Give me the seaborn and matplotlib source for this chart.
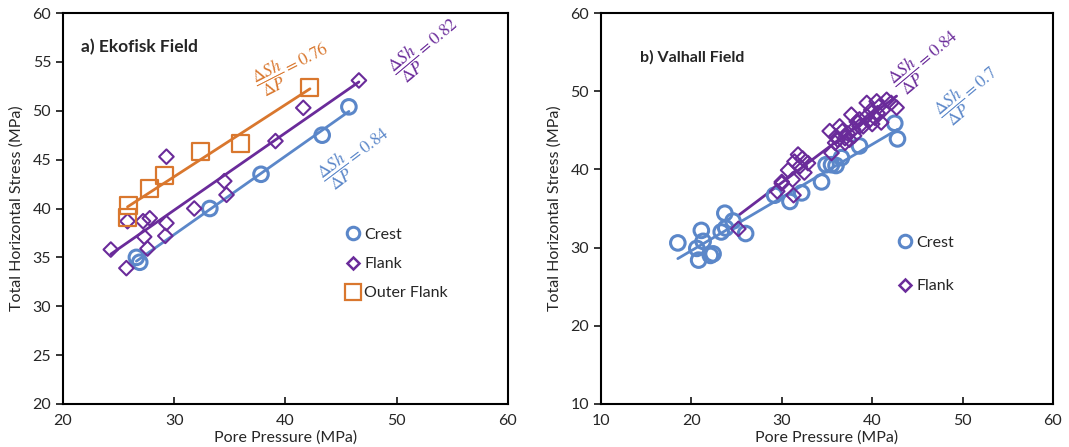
import numpy as np
import pandas as pd
import seaborn as sns
import matplotlib
matplotlib.use("Agg")
import matplotlib.pyplot as plt
from matplotlib.lines import Line2D

sns.set_style("white")
plt.rcParams['font.family'] = ['Lato', 'DejaVu Sans']
plt.rcParams['mathtext.fontset'] = 'stix'

# ---------------- data: a) Ekofisk Field ----------------
ek_crest_p = [26.6, 26.9, 33.2, 37.8, 43.3, 45.7]
ek_crest_s = [35.0, 34.5, 40.0, 43.5, 47.5, 50.4]

ek_flank_p = [24.3, 25.7, 25.8, 27.2, 27.8, 27.3, 27.6, 29.3, 29.3, 29.2, 31.8, 34.5, 34.7, 39.1, 41.6, 46.6]
ek_flank_s = [35.8, 33.9, 38.7, 38.7, 39.0, 37.1, 35.9, 45.3, 38.5, 37.2, 40.0, 42.8, 41.4, 46.9, 50.3, 53.1]

ek_outer_p = [25.9, 25.8, 27.8, 29.1, 32.4, 36.0, 42.2]
ek_outer_s = [40.3, 39.1, 42.0, 43.4, 45.8, 46.6, 52.4]

# ---------------- data: b) Valhall Field ----------------
va_crest_p = [18.5, 21.1, 21.3, 20.6, 20.8, 22.1, 22.4, 23.7, 23.3, 23.8, 24.6, 26.0,
              29.2, 30.9, 32.2, 34.4, 34.9, 35.5, 36.0, 36.6, 38.6, 42.5, 42.8]
va_crest_s = [30.6, 32.2, 30.8, 29.9, 28.4, 29.0, 29.2, 34.4, 32.0, 32.5, 33.4, 31.8,
              36.7, 35.9, 37.0, 38.4, 40.6, 40.6, 40.5, 41.5, 43.0, 45.9, 43.9]

va_flank_p = [25.2, 29.5, 31.3, 30.0, 30.7, 31.4, 31.8, 32.3, 32.9, 32.0, 32.5, 31.2, 30.0,
              35.3, 35.5, 36.0, 36.7, 37.0, 37.5, 37.7, 38.6, 39.4, 39.9, 40.3, 40.8, 41.6,
              42.7, 40.6, 39.7, 39.0, 38.3, 36.4, 35.9, 37.3, 37.9, 40.5, 41.2, 42.1, 39.4, 38.6,
              36.2, 37.0, 38.0, 40.0, 41.0]
va_flank_s = [32.4, 37.2, 36.7, 38.4, 39.9, 41.0, 41.9, 41.4, 40.8, 40.4, 39.6, 38.7, 38.2,
              44.9, 42.1, 44.2, 44.9, 43.4, 43.8, 47.0, 45.5, 48.5, 47.6, 46.6, 48.1, 48.9,
              47.9, 47.2, 46.3, 45.5, 46.1, 45.5, 43.4, 44.6, 45.1, 48.7, 47.6, 48.5, 46.8, 46.4,
              43.8, 44.0, 44.3, 45.8, 46.0]

blue = '#5B87C9'
purple = '#6A2B9A'
orange = '#D9772E'

fig = plt.figure(figsize=(10.69, 4.47), dpi=100)
axL = fig.add_axes([0.0589, 0.0962, 0.4163, 0.8747])
axR = fig.add_axes([0.5622, 0.0962, 0.4228, 0.8747])


def series(ax, p, s, color, marker, size, lw, line_lw=2.0):
    df = pd.DataFrame({'p': p, 's': s})
    sns.regplot(data=df, x='p', y='s', ax=ax, scatter=False, ci=None, truncate=True,
                color=color, line_kws={'lw': line_lw, 'zorder': 2})
    sns.scatterplot(data=df, x='p', y='s', ax=ax, marker=marker, s=size,
                    facecolor='none', edgecolor=color, linewidth=lw, zorder=3)


series(axL, ek_crest_p, ek_crest_s, blue, 'o', 110, 2.2)
series(axL, ek_flank_p, ek_flank_s, purple, 'D', 55, 1.5)
series(axL, ek_outer_p, ek_outer_s, orange, 's', 150, 1.6)

series(axR, va_crest_p, va_crest_s, blue, 'o', 110, 2.2)
series(axR, va_flank_p, va_flank_s, purple, 'D', 55, 1.5)

for ax, xl, yl, yt in [(axL, (20, 60), (20, 60), np.arange(20, 61, 5)),
                       (axR, (10, 60), (10, 60), np.arange(10, 61, 10))]:
    ax.set_xlim(*xl)
    ax.set_ylim(*yl)
    ax.set_xticks(np.arange(xl[0], 61, 10))
    ax.set_yticks(yt)
    for sp in ax.spines.values():
        sp.set_visible(True)
        sp.set_color('black')
        sp.set_linewidth(1.5)
    ax.tick_params(axis='x', direction='in', length=5, width=1.3, labelsize=11.5, pad=7, bottom=True)
    ax.tick_params(axis='y', direction='out', length=5, width=1.3, labelsize=11.5, left=True)
    ax.set_xlabel('Pore Pressure (MPa)', fontsize=11.5, labelpad=2)
    ax.set_ylabel('Total Horizontal Stress (MPa)', fontsize=11.5, labelpad=6)

axL.text(0.04, 0.9, 'a) Ekofisk Field', transform=axL.transAxes, fontsize=12.5, fontweight='bold')
axR.text(0.086, 0.875, 'b) Valhall Field', transform=axR.transAxes, fontsize=11.5, fontweight='bold')

frac = r'$\dfrac{\Delta Sh}{\Delta P}=%s$'
axL.text(40.6, 54.4, frac % '0.76', color=orange, fontsize=12.5, rotation=27, ha='center', va='center')
axL.text(52.6, 56.3, frac % '0.82', color=purple, fontsize=12.5, rotation=40, ha='center', va='center')
axL.text(46.3, 45.3, frac % '0.84', color=blue, fontsize=12.5, rotation=37, ha='center', va='center')
axR.text(45.9, 53.9, frac % '0.84', color=purple, fontsize=12.5, rotation=40, ha='center', va='center')
axR.text(50.6, 49.5, frac % '0.7', color=blue, fontsize=12.5, rotation=40, ha='center', va='center')

hc = Line2D([], [], ls='none', marker='o', ms=9, mfc='none', mec=blue, mew=2.2)
hf = Line2D([], [], ls='none', marker='D', ms=6.5, mfc='none', mec=purple, mew=1.8)
ho = Line2D([], [], ls='none', marker='s', ms=11, mfc='none', mec=orange, mew=1.6)
axL.legend([hc, hf, ho], ['Crest', 'Flank', 'Outer Flank'], frameon=False, fontsize=11.5,
           loc='upper left', bbox_to_anchor=(0.598, 0.488), labelspacing=0.95,
           handletextpad=0.1, handlelength=1.2)
axR.legend([hc, hf], ['Crest', 'Flank'], frameon=False, fontsize=11.5,
           loc='upper left', bbox_to_anchor=(0.62, 0.468), labelspacing=1.85,
           handletextpad=0.1, handlelength=1.2)

fig.savefig('out.png', dpi=100)
